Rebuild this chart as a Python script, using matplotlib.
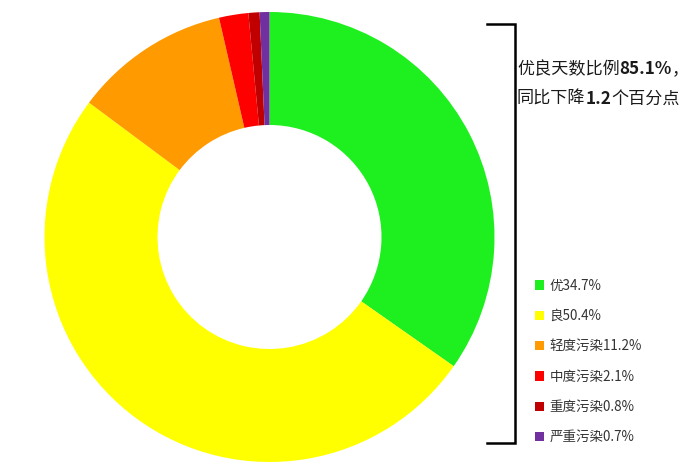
import matplotlib
matplotlib.use('Agg')
import matplotlib.pyplot as plt
from matplotlib.patches import Patch

plt.rcParams['font.family'] = ['Noto Sans CJK SC', 'DejaVu Sans']

# Data
categories = ['优', '良', '轻度污染', '中度污染', '重度污染', '严重污染']
shares = [34.7, 50.4, 11.2, 2.1, 0.8, 0.7]
colors = ['#1eef1e', '#ffff00', '#ff9a00', '#ff0000', '#c00000', '#7030a0']
note_lines = [
    [('优良天数比例', 'normal'), ('85.1%', 'bold'), ('，', 'normal')],
    [('同比下降', 'normal'), ('1.2', 'bold'), ('个百分点', 'normal')],
]

W, H = 696, 470
fig = plt.figure(figsize=(W / 100, H / 100), dpi=100)
ax = fig.add_axes([0, 0, 1, 1])
ax.set_xlim(0, W)
ax.set_ylim(0, H)
ax.set_aspect('equal')
ax.axis('off')

# Donut
ax.pie(shares, colors=colors, startangle=90, counterclock=False,
       center=(269.5, H - 237), radius=225,
       wedgeprops=dict(width=113, linewidth=0))
ax.set_xlim(0, W)
ax.set_ylim(0, H)

# Bracket
ax.plot([487, 515, 515, 487], [H - 24, H - 24, H - 443, H - 443],
        color='black', lw=1.8, solid_joinstyle='miter')

# Note text, mixed weights
renderer = fig.canvas.get_renderer()
for i, parts in enumerate(note_lines):
    x = 517
    y = H - 69 - i * 30
    for txt, wt in parts:
        t = ax.text(x, y, txt, fontsize=12.3, fontweight=wt,
                    va='center', ha='left', color='#1a1a1a')
        bb = t.get_window_extent(renderer=renderer)
        x += bb.width

# Legend
handles = [Patch(facecolor=c, edgecolor='none') for c in colors]
labels = [f'{n}{v}%' for n, v in zip(categories, shares)]
leg = fig.legend(handles, labels, loc='upper left',
                 bbox_to_anchor=(528 / W, 1 - 272 / H),
                 frameon=False, fontsize=9.7, handlelength=0.7,
                 handleheight=0.7, handletextpad=0.4, labelspacing=1.21,
                 borderpad=0, labelcolor='#333333')

fig.savefig('out.png', dpi=100, facecolor='white')
